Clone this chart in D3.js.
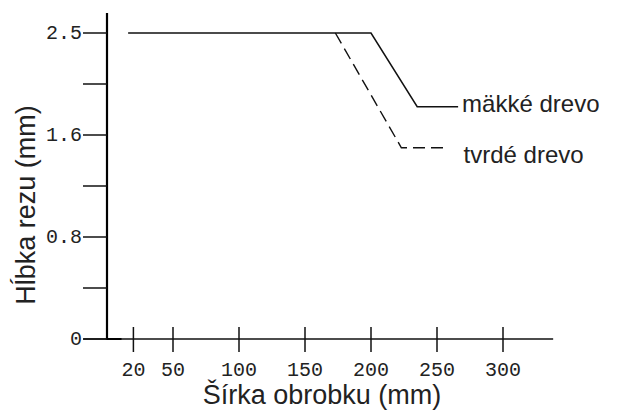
<!DOCTYPE html>
<html>
<head>
<meta charset="utf-8">
<script src="https://cdn.jsdelivr.net/npm/d3@7"></script>
<style>
  html, body { margin: 0; padding: 0; background: #fff; }
  svg { display: block; }
  .tick-label { font-family: "Liberation Mono", "Courier New", monospace; font-size: 20px; fill: #222; }
  .title { font-family: "Liberation Sans", Arial, sans-serif; font-size: 27px; fill: #222; }
  .legend { font-family: "Liberation Sans", Arial, sans-serif; font-size: 24px; fill: #222; }
</style>
</head>
<body>
<svg id="chart" width="627" height="410"></svg>
<script>
// Cutting depth vs. workpiece width for soft and hard wood
const xTicks = [20, 50, 100, 150, 200, 250, 300];
const yTicks = [0, 0.4, 0.8, 1.2, 1.6, 2.05, 2.5];
const yTickLabels = ["0", "", "0.8", "", "1.6", "", "2.5"];

const softName = "mäkké drevo";
const softX = [16, 200, 235, 266];
const softY = [2.5, 2.5, 1.85, 1.85];

const hardName = "tvrdé drevo";
const hardX = [173, 223, 255];
const hardY = [2.5, 1.5, 1.5];

const svg = d3.select("#chart");

// y axis is drawn in equal steps between the labelled depths
const x = d3.scaleLinear().domain([0, 300]).range([107, 503]);
const y = d3.scaleLinear().domain([0, 0.8, 1.6, 2.5, 2.68]).range([339, 237, 135, 33, 13]);

// x axis: baseline plus crossing ticks
svg.append("line")
  .attr("x1", x(-18)).attr("x2", x(338))
  .attr("y1", y(0)).attr("y2", y(0))
  .attr("stroke", "#111").attr("stroke-width", 1.5);

const xg = svg.append("g").selectAll("g").data(xTicks).join("g")
  .attr("transform", d => `translate(${x(d)},0)`);
xg.append("line")
  .attr("y1", y(0) - 12).attr("y2", y(0) + 13)
  .attr("stroke", "#111").attr("stroke-width", 1.5);
xg.append("text")
  .attr("class", "tick-label")
  .attr("y", y(0) + 37)
  .attr("text-anchor", "middle")
  .text(d => d);

// y axis: heavy spine with left-pointing ticks
svg.append("path")
  .attr("d", `M${x(0)},${y(2.68)}V${y(0)}H${x(11)}`)
  .attr("fill", "none")
  .attr("stroke", "#000").attr("stroke-width", 2.2);

const yg = svg.append("g").selectAll("g").data(yTicks).join("g")
  .attr("transform", d => `translate(0,${y(d)})`);
yg.append("line")
  .attr("x1", x(0) - 24).attr("x2", x(0))
  .attr("stroke", "#111").attr("stroke-width", 1.5);
yg.append("text")
  .attr("class", "tick-label")
  .attr("x", x(0) - 25)
  .attr("dy", "0.32em")
  .attr("text-anchor", "end")
  .text((d, i) => yTickLabels[i]);

// series lines
const line = d3.line().x(d => x(d[0])).y(d => y(d[1]));

svg.append("path")
  .datum(d3.zip(softX, softY))
  .attr("d", line)
  .attr("fill", "none")
  .attr("stroke", "#111").attr("stroke-width", 1.5);

svg.append("path")
  .datum(d3.zip(hardX, hardY))
  .attr("d", line)
  .attr("fill", "none")
  .attr("stroke", "#111").attr("stroke-width", 1.4)
  .attr("stroke-dasharray", "12,6");

// series labels at the line ends
svg.append("text").attr("class", "legend")
  .attr("x", x(softX[softX.length - 1]) + 4)
  .attr("y", y(softY[softY.length - 1]) + 5)
  .text(softName);
svg.append("text").attr("class", "legend")
  .attr("x", x(hardX[hardX.length - 1]) + 20)
  .attr("y", y(hardY[hardY.length - 1]) + 15)
  .text(hardName);

// axis titles
svg.append("text").attr("class", "title")
  .attr("x", 322).attr("y", 404)
  .attr("text-anchor", "middle")
  .text("Šírka obrobku (mm)");
svg.append("text").attr("class", "title")
  .attr("transform", "translate(35,205) rotate(-90)")
  .attr("text-anchor", "middle")
  .text("Hĺbka rezu (mm)");
</script>
</body>
</html>
